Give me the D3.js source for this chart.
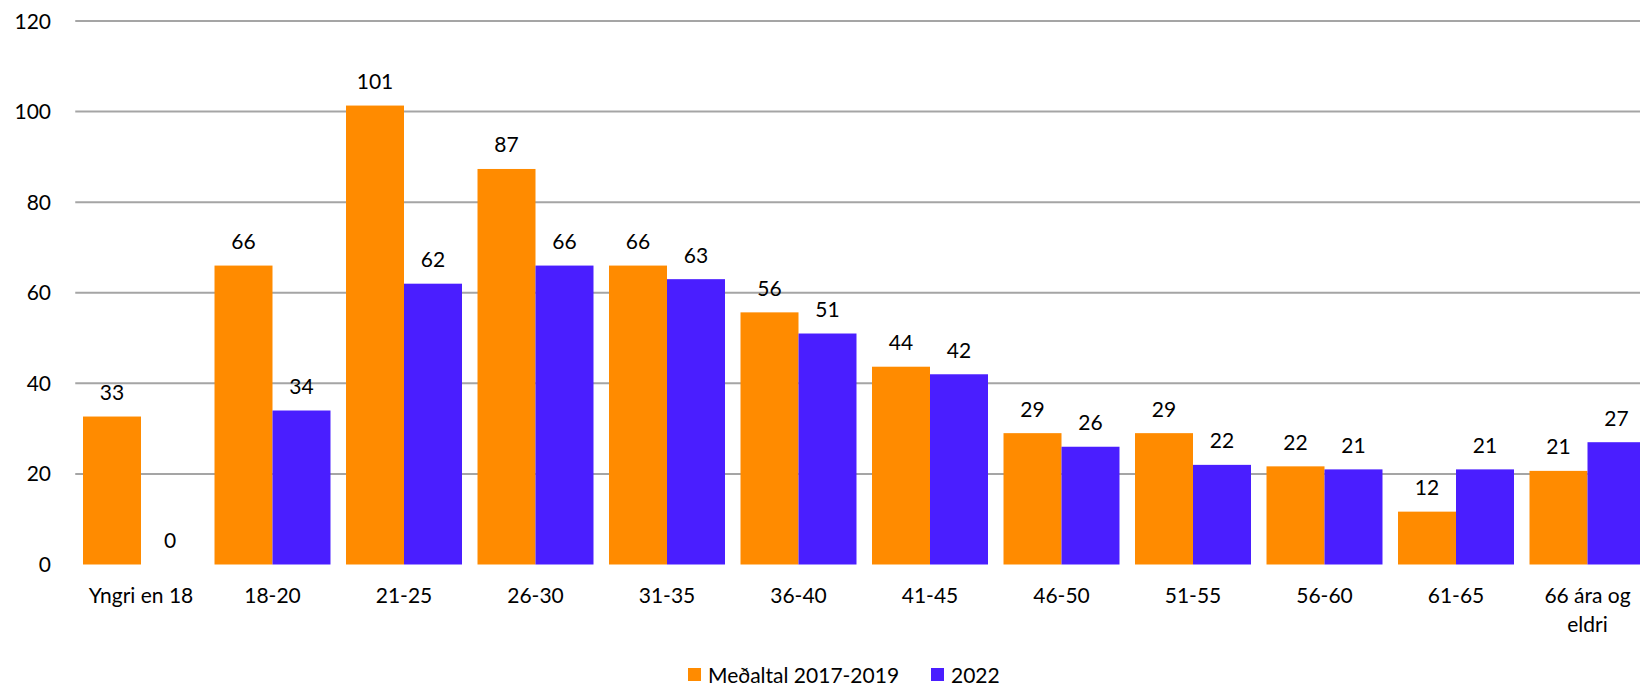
<!DOCTYPE html>
<html>
<head>
<meta charset="utf-8">
<script src="https://cdn.jsdelivr.net/npm/d3@7"></script>
<style>
  body { margin: 0; background: #fff; }
  svg { display: block; font-family: Lato, "Open Sans", sans-serif; }
</style>
</head>
<body>
<div class="chart"></div>
<script>
const categories = ["Yngri en 18", "18-20", "21-25", "26-30", "31-35", "36-40", "41-45", "46-50", "51-55", "56-60", "61-65", "66 ára og eldri"];
const seriesNames = ["Meðaltal 2017-2019", "2022"];
const average = [32.67, 66, 101.33, 87.33, 66, 55.67, 43.67, 29, 29, 21.67, 11.67, 20.67];
const year2022 = [0, 34, 62, 66, 63, 51, 42, 26, 22, 21, 21, 27];
const yTicks = [0, 20, 40, 60, 80, 100, 120];
const colors = ["#FF8B00", "#4A1EFF"];

const width = 1640, height = 687;
const margin = { top: 21, left: 75.25, bottom: 564.5 };

const svg = d3.select(".chart")
  .append("svg")
  .attr("width", width)
  .attr("height", height);

// plot area runs a bit past the right edge, like the cropped original
const x0 = d3.scaleBand()
  .domain(categories)
  .range([margin.left, margin.left + 131.5 * categories.length])
  .paddingInner(0.118)
  .paddingOuter(0.059);

const x1 = d3.scaleBand()
  .domain(seriesNames)
  .range([0, x0.bandwidth()]);

const y = d3.scaleLinear()
  .domain([0, 120])
  .range([margin.bottom, margin.top]);

// gridlines
svg.append("g")
  .selectAll("line")
  .data(yTicks.filter(d => d > 0))
  .join("line")
  .attr("x1", margin.left)
  .attr("x2", width)
  .attr("y1", d => y(d))
  .attr("y2", d => y(d))
  .attr("stroke", "#A5A5A5")
  .attr("stroke-width", 2);

// y tick labels
svg.append("g")
  .selectAll("text")
  .data(yTicks)
  .join("text")
  .attr("x", 51)
  .attr("y", d => y(d))
  .attr("dy", "0.36em")
  .attr("text-anchor", "end")
  .attr("font-size", 21)
  .attr("fill", "#000")
  .text(d => d);

const rows = categories.map((c, i) => ({
  cat: c,
  values: [average[i], year2022[i]]
}));

const groups = svg.append("g")
  .selectAll("g")
  .data(rows)
  .join("g")
  .attr("transform", d => `translate(${x0(d.cat)},0)`);

groups.selectAll("rect")
  .data(d => d.values.map((v, j) => ({ name: seriesNames[j], v, j })))
  .join("rect")
  .attr("x", d => x1(d.name))
  .attr("width", x1.bandwidth())
  .attr("y", d => y(d.v))
  .attr("height", d => y(0) - y(d.v))
  .attr("fill", d => colors[d.j]);

groups.selectAll("text.val")
  .data(d => d.values.map((v, j) => ({ name: seriesNames[j], v })))
  .join("text")
  .attr("class", "val")
  .attr("x", d => x1(d.name) + x1.bandwidth() / 2)
  .attr("y", d => y(d.v) - 16.5)
  .attr("text-anchor", "middle")
  .attr("font-size", 21)
  .attr("fill", "#000")
  .text(d => Math.round(d.v));

// category labels, the last one wraps like in the original
const catLabels = svg.append("g")
  .selectAll("text")
  .data(categories)
  .join("text")
  .attr("x", d => x0(d) + x0.bandwidth() / 2)
  .attr("y", 603)
  .attr("text-anchor", "middle")
  .attr("font-size", 21)
  .attr("fill", "#000");

catLabels.each(function (d) {
  const lines = d === "66 ára og eldri" ? ["66 ára og", "eldri"] : [d];
  d3.select(this).selectAll("tspan")
    .data(lines)
    .join("tspan")
    .attr("x", x0(d) + x0.bandwidth() / 2)
    .attr("dy", (l, i) => i === 0 ? 0 : 28.5)
    .text(l => l);
});

// legend
const legendX = [688, 931];
const legend = svg.append("g")
  .selectAll("g")
  .data(seriesNames)
  .join("g")
  .attr("transform", (d, i) => `translate(${legendX[i]},668)`);

legend.append("rect")
  .attr("width", 13)
  .attr("height", 13)
  .attr("fill", (d, i) => colors[i]);

legend.append("text")
  .attr("x", 20)
  .attr("y", 15)
  .attr("font-size", 21)
  .attr("fill", "#000")
  .text(d => d);
</script>
</body>
</html>
